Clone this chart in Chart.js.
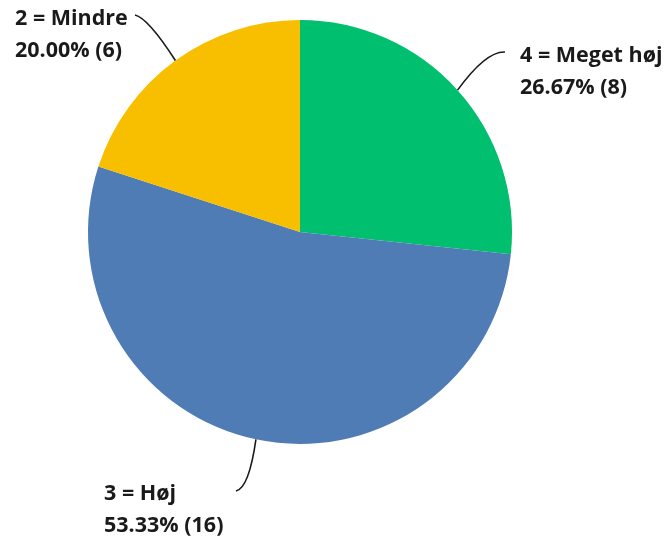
<!DOCTYPE html>
<html lang="da">
<head>
  <meta charset="UTF-8">
  <title>Fordeling</title>
  <style>
    html, body { margin: 0; padding: 0; background: #fff; }
    #wrap { width: 670px; height: 542px; }
  </style>
</head>
<body>
  <div id="wrap"><canvas id="pieChart"></canvas></div>

  <script src="https://cdn.jsdelivr.net/npm/chart.js"></script>
  <script>
// data, clockwise from 12 o'clock
const labels = ['4 = Meget høj', '3 = Høj', '2 = Mindre'];
const counts = [8, 16, 6];
const percents = ['26.67%', '53.33%', '20.00%'];
const colors = ['#00BF6F', '#507CB6', '#F8BE00'];

// where each label block sits, relative to the pie centre
const labelSpots = [
  { dx: 220, dy: -176, endX: 205, endY: -180, ctrlX: 186, ctrlY: -181 },
  { dx: -196, dy: 262, endX: -64, endY: 259, ctrlX: -51, ctrlY: 256 },
  { dx: -285, dy: -213, endX: -165, endY: -217, ctrlX: -152, ctrlY: -214 }
];

const outsideLabels = {
  id: 'outsideLabels',
  afterDraw(chart) {
    const ctx = chart.ctx;
    const meta = chart.getDatasetMeta(0);
    ctx.save();
    meta.data.forEach((arc, i) => {
      const mid = (arc.startAngle + arc.endAngle) / 2;
      const sx = arc.x + Math.cos(mid) * arc.outerRadius;
      const sy = arc.y + Math.sin(mid) * arc.outerRadius;
      const s = labelSpots[i];

      ctx.beginPath();
      ctx.moveTo(sx, sy);
      ctx.quadraticCurveTo(arc.x + s.ctrlX, arc.y + s.ctrlY, arc.x + s.endX, arc.y + s.endY);
      ctx.strokeStyle = '#1a1a1a';
      ctx.lineWidth = 1.6;
      ctx.stroke();

      ctx.fillStyle = '#1a1a1a';
      ctx.font = 'bold 21.5px "Open Sans", sans-serif';
      ctx.textAlign = 'left';
      ctx.textBaseline = 'middle';
      ctx.fillText(labels[i], arc.x + s.dx, arc.y + s.dy);
      ctx.fillText(percents[i] + ' (' + counts[i] + ')', arc.x + s.dx, arc.y + s.dy + 32);
    });
    ctx.restore();
  }
};

new Chart(document.getElementById('pieChart'), {
  type: 'pie',
  data: {
    labels: labels,
    datasets: [{
      data: counts,
      backgroundColor: colors,
      borderWidth: 0
    }]
  },
  options: {
    responsive: true,
    maintainAspectRatio: false,
    animation: false,
    layout: { padding: { left: 88, right: 158, top: 20, bottom: 98 } },
    plugins: {
      legend: { display: false },
      tooltip: { enabled: false }
    }
  },
  plugins: [outsideLabels]
});
  </script>
</body>
</html>
